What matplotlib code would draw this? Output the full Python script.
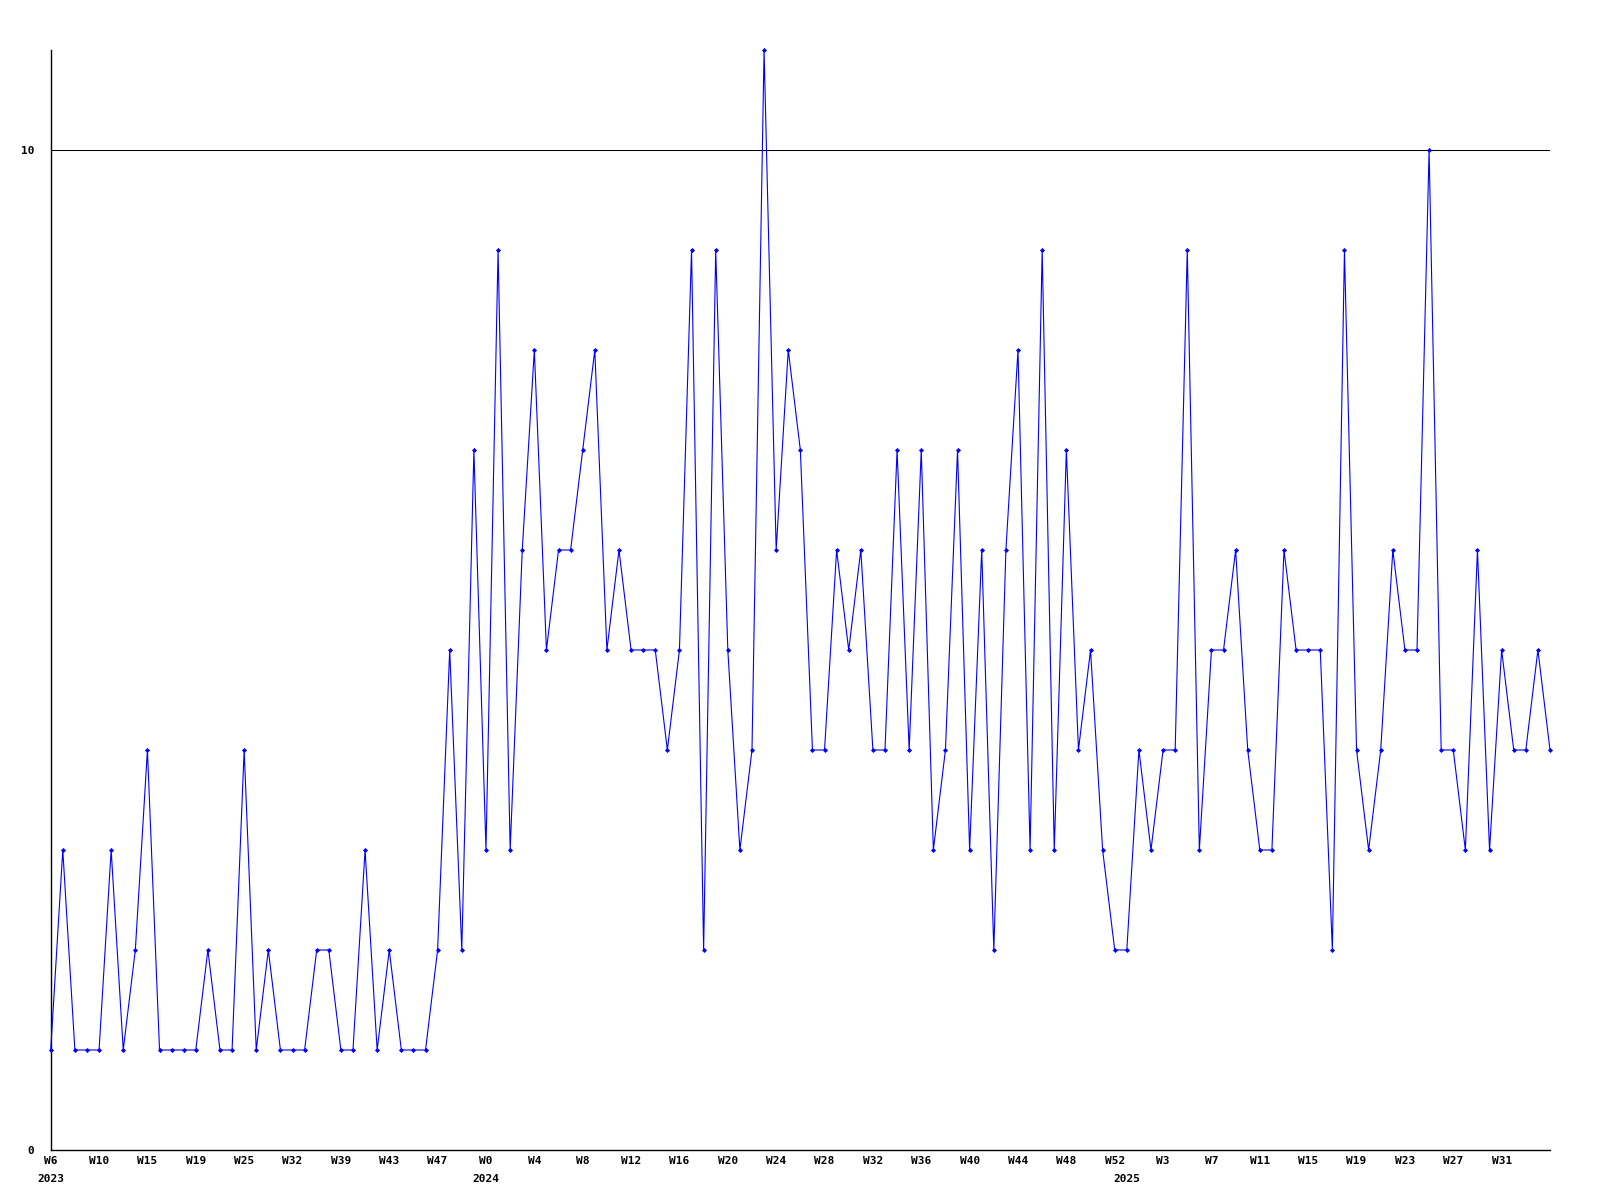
import matplotlib
matplotlib.use("Agg")
import matplotlib.pyplot as plt

# Weekly values (125 points, W6 2023 .. ~W35 2025)
values = [
    1, 3, 1, 1, 1, 3, 1, 2, 4, 1,
    1, 1, 1, 2, 1, 1, 4, 1, 2, 1,
    1, 1, 2, 2, 1, 1, 3, 1, 2, 1,
    1, 1, 2, 5, 2, 7, 3, 9, 3, 6,
    8, 5, 6, 6, 7, 8, 5, 6, 5, 5,
    5, 4, 5, 9, 2, 9, 5, 3, 4, 11,
    6, 8, 7, 4, 4, 6, 5, 6, 4, 4,
    7, 4, 7, 3, 4, 7, 3, 6, 2, 6,
    8, 3, 9, 3, 7, 4, 5, 3, 2, 2,
    4, 3, 4, 4, 9, 3, 5, 5, 6, 4,
    3, 3, 6, 5, 5, 5, 2, 9, 4, 3,
    4, 6, 5, 5, 10, 4, 4, 3, 6, 3,
    5, 4, 4, 5, 4,
]

week_tick_labels = ['W6', 'W10', 'W15', 'W19', 'W25', 'W32', 'W39', 'W43', 'W47',
                    'W0', 'W4', 'W8', 'W12', 'W16', 'W20', 'W24', 'W28', 'W32',
                    'W36', 'W40', 'W44', 'W48', 'W52', 'W3', 'W7', 'W11', 'W15',
                    'W19', 'W23', 'W27', 'W31']
week_tick_index = list(range(0, 4 * len(week_tick_labels), 4))

year_labels = ['2023', '2024', '2025']
year_index = [0, 36, 89]

y_ticks = [0, 10]
y_max = 11

font = dict(family='DejaVu Sans Mono', fontweight='bold', fontsize=8)

fig = plt.figure(figsize=(16, 12), dpi=100)
ax = fig.add_axes([50.7 / 1600, 50 / 1200, (1550 - 50.7) / 1600, 1100 / 1200])

x = list(range(len(values)))
ax.plot(x, values, color='#0000ff', linewidth=0.8, marker='D',
        markersize=2.6, markerfacecolor='#0000ff', markeredgewidth=0,
        clip_on=False, zorder=3)

ax.set_xlim(0, len(values) - 1)
ax.set_ylim(0, y_max)

# horizontal reference line at 10
ax.axhline(10, color='black', linewidth=0.75, zorder=1)

for s in ['top', 'right']:
    ax.spines[s].set_visible(False)
for s in ['left', 'bottom']:
    ax.spines[s].set_linewidth(1.0)
    ax.spines[s].set_color('black')

ax.set_yticks(y_ticks)
ax.set_yticklabels([str(v) for v in y_ticks], **font)
ax.tick_params(axis='y', length=0, pad=12)

ax.set_xticks(week_tick_index)
ax.set_xticklabels(week_tick_labels, **font)
ax.tick_params(axis='x', length=0, pad=4)

for lab, idx in zip(year_labels, year_index):
    ax.annotate(lab, xy=(idx, 0), xycoords='data', xytext=(0, -17),
                textcoords='offset points', ha='center', va='top',
                annotation_clip=False, **font)

fig.savefig('out.png', dpi=100, facecolor='white')
